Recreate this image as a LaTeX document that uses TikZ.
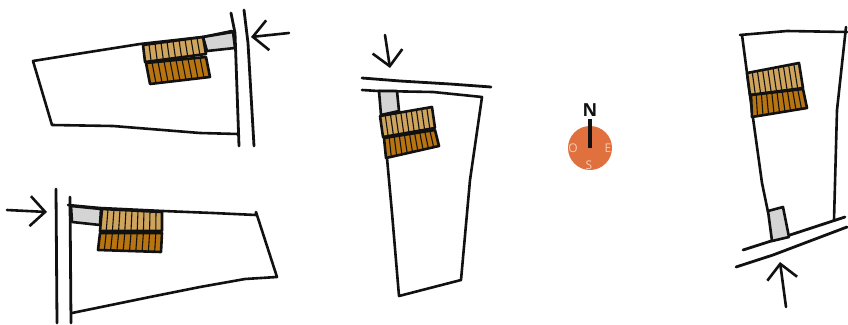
\documentclass[tikz,border=0pt]{standalone}
\usepackage{fontspec}
\setmainfont{Open Sans}
\usetikzlibrary{arrows.meta,calc}
\definecolor{roofLight}{HTML}{CFA45C}
\definecolor{roofDark}{HTML}{B87410}
\definecolor{entryGray}{HTML}{D4D4D4}
\definecolor{dialOrange}{HTML}{E0703D}
\definecolor{dialText}{HTML}{F6CDB6}
\definecolor{inkBlack}{HTML}{111111}
\newcommand{\roofbay}[5]{%
  \coordinate (ra) at #1;
  \coordinate (rb) at #2;
  \coordinate (rc) at #3;
  \coordinate (rd) at #4;
  \draw[pen, fill=#5] (ra) -- (rb) -- (rc) -- (rd) -- cycle;
  \foreach \t in {0.1,0.2,...,0.95} {
    \draw[tick] ($(ra)!\t!(rb)$) -- ($(rd)!\t!(rc)$);
  }
}
\begin{document}
\begin{tikzpicture}[
        x=1pt, y=-1pt,
        pen/.style={draw=inkBlack, line width=2.6pt, line cap=round, line join=round},
        wall/.style={pen, line width=2.8pt},
        entry/.style={pen, fill=entryGray},
        tick/.style={draw=inkBlack, line width=1.1pt},
        access/.style={pen, -{Straight Barb[length=15pt, width=30pt, line width=2.6pt]}},
        dial/.style={circle, fill=dialOrange, minimum size=44pt, inner sep=0pt},
        needle/.style={draw=inkBlack, line width=3.8pt},
        cardinal/.style={font=\fontsize{12}{12}\selectfont, text=dialText, inner sep=0pt},
        north/.style={font=\fontsize{18}{18}\selectfont\bfseries, text=inkBlack, inner sep=0pt}
      ]
        \useasboundingbox (0,0) rectangle (848,324);

        \draw[wall] (231,13) -- (235,33) -- (239,146);
        \draw[wall] (244,10) -- (248,43) -- (254,146);
        \draw[pen] (232,31) -- (203,37) -- (140,44) -- (83,53) -- (33,61) -- (52,125) -- (113,126) -- (200,133) -- (238,134);
        \draw[entry] (203,37) -- (233,32) -- (235,48) -- (207,51) -- cycle;
        \roofbay{(143,45)}{(203,37)}{(206,54)}{(145,62)}{roofLight}
        \roofbay{(146,63)}{(206,57)}{(210,77)}{(150,84)}{roofDark}
        \coordinate (accessA) at (289,33);
        \coordinate (gateA) at (251,37);
        \draw[access] (accessA) -- (gateA);

        \draw[wall] (56,189) -- (57,323);
        \draw[wall] (70,197) -- (71,323);
        \draw[pen] (68,205) -- (100,208) -- (163,211) -- (213,213) -- (256,215) -- (256,212) -- (277,277) -- (245,279) -- (200,287) -- (150,297) -- (72,313);
        \draw[entry] (71,206) -- (101,209) -- (100,225) -- (72,222) -- cycle;
        \roofbay{(102,209)}{(162,212)}{(162,231)}{(100,231)}{roofLight}
        \roofbay{(100,233)}{(162,233)}{(161,252)}{(98,250)}{roofDark}
        \coordinate (accessB) at (7,210);
        \coordinate (gateB) at (47,212);
        \draw[access] (accessB) -- (gateB);

        \draw[wall] (362,78) -- (400,81) -- (450,84) -- (491,87);
        \draw[pen] (362,90) -- (378,91) -- (433,92) -- (482,97) -- (470,180) -- (461,280) -- (399,296) -- (392,213) -- (387,158);
        \draw[entry] (379,91) -- (397,91) -- (399,111) -- (381,115) -- cycle;
        \roofbay{(380,116)}{(432,107)}{(435,128)}{(383,137)}{roofLight}
        \roofbay{(384,138)}{(435,130)}{(439,146)}{(386,158)}{roofDark}
        \coordinate (accessC) at (385,35);
        \coordinate (gateC) at (390,68);
        \draw[access] (accessC) -- (gateC);

        \draw[pen] (740,35) -- (787,31) -- (847,32);
        \draw[pen] (742,35) -- (747,73) -- (753,118) -- (762,183) -- (768,212);
        \draw[pen] (846,27) -- (837,110) -- (834,220);
        \draw[wall] (743,250) -- (790,235) -- (845,217);
        \draw[wall] (736,267) -- (773,255) -- (847,227);
        \draw[entry] (768,211) -- (783,207) -- (789,237) -- (772,241) -- cycle;
        \roofbay{(747,73)}{(799,63)}{(803,88)}{(750,95)}{roofLight}
        \roofbay{(751,95)}{(803,89)}{(807,108)}{(752,117)}{roofDark}
        \coordinate (accessD) at (786,307);
        \coordinate (gateD) at (780,262);
        \draw[access] (accessD) -- (gateD);

        \node[dial] (dialDisc) at (590,148) {};
        \node[north] (dialN) at (590,110) {N};
        \node[cardinal] (dialO) at (573,148) {O};
        \node[cardinal] (dialE) at (608,148) {E};
        \node[cardinal] (dialS) at (589,165) {S};
        \coordinate (needleTop) at (590,119);
        \draw[needle] (needleTop) -- (dialDisc.center);
      \end{tikzpicture}
\end{document}
